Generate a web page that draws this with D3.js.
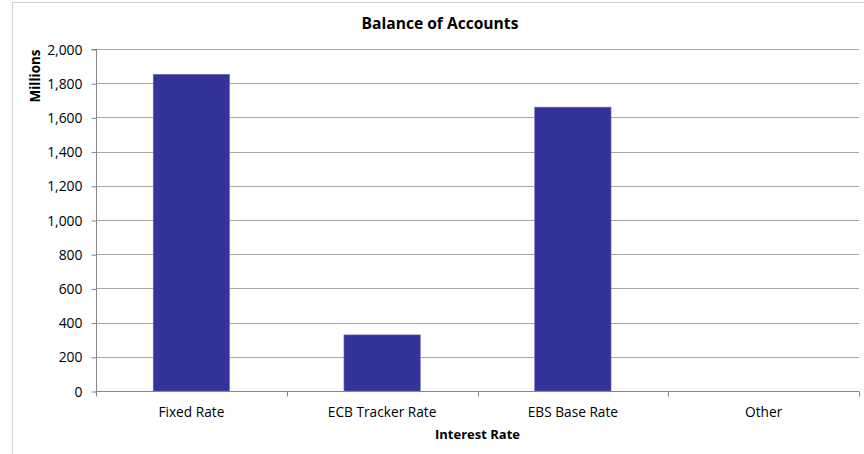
<!DOCTYPE html>
<html>
<head>
<meta charset="utf-8">
<script src="https://cdn.jsdelivr.net/npm/d3@7"></script>
<style>
  html, body { margin: 0; padding: 0; background: #fff; }
  svg { display: block; font-family: "Open Sans", "Liberation Sans", sans-serif; }
</style>
</head>
<body>
<svg id="chart" width="864" height="454"></svg>
<script>
const categories = ["Fixed Rate", "ECB Tracker Rate", "EBS Base Rate", "Other"];
const balances = [1852, 328, 1660, 0];
const yTicks = [0, 200, 400, 600, 800, 1000, 1200, 1400, 1600, 1800, 2000];
const chartTitle = "Balance of Accounts";
const xTitle = "Interest Rate";
const yTitle = "Millions";

const svg = d3.select("#chart");
const margin = { left: 96, right: 5, top: 49, bottom: 63 };
const W = 864, H = 454;
const x0 = margin.left, x1 = W - margin.right;
const y0 = H - margin.bottom, y1 = margin.top;

// outer chart border
svg.append("rect")
  .attr("x", 12.5).attr("y", 2.5)
  .attr("width", 900).attr("height", 500)
  .attr("fill", "none").attr("stroke", "#d0d0d0").attr("stroke-width", 1);

const x = d3.scaleBand().domain(categories).range([x0, x1]).paddingInner(0).paddingOuter(0);
const y = d3.scaleLinear().domain([0, 2000]).range([y0, y1]);

// gridlines
svg.append("g")
  .selectAll("line")
  .data(yTicks.filter(d => d > 0))
  .join("line")
  .attr("x1", x0).attr("x2", x1)
  .attr("y1", d => Math.round(y(d)) + 0.5)
  .attr("y2", d => Math.round(y(d)) + 0.5)
  .attr("stroke", "#a6a6a6").attr("stroke-width", 1);

// bars
const bw = x.bandwidth() * 0.4;
svg.append("g")
  .selectAll("rect")
  .data(categories.map((c, i) => ({ c, v: balances[i] })))
  .join("rect")
  .attr("x", d => x(d.c) + (x.bandwidth() - bw) / 2)
  .attr("width", bw)
  .attr("y", d => y(d.v))
  .attr("height", d => y(0) - y(d.v))
  .attr("fill", "#333399")
  .attr("stroke", d => d.v > 0 ? "#6a6ac0" : "none")
  .attr("stroke-width", 0.6);

// y axis
const yAxis = d3.axisLeft(y).tickValues(yTicks).tickSize(5).tickPadding(9)
  .tickFormat(d3.format(","));
const gy = svg.append("g").attr("transform", `translate(${x0 + 0.5},0)`).call(yAxis);
gy.attr("font-size", null).attr("font-family", null);
gy.select(".domain").attr("stroke", "#868686").attr("d", `M-5,${y1 + 0.5}H0V${y0 + 0.5}`);
gy.selectAll(".tick line").attr("stroke", "#868686").attr("transform", "translate(0,0.5)");
gy.selectAll(".tick text").style("font-size", "13.9px").attr("fill", "#000")
  .style("font-family", "'Open Sans', sans-serif").attr("dy", "0.36em");

// x axis
const xAxis = d3.axisBottom(x).tickSize(0).tickPadding(16);
const gx = svg.append("g").attr("transform", `translate(0,${y0 + 0.5})`).call(xAxis);
gx.attr("font-size", null).attr("font-family", null);
gx.select(".domain").attr("stroke", "#868686").attr("d", `M${x0},0H${x1}`);
gx.selectAll(".tick text").style("font-size", "13.7px").attr("fill", "#000")
  .style("font-family", "'Open Sans', sans-serif");
// category boundary ticks
const bounds = categories.map(c => x(c)).concat([x1]);
gx.append("g").selectAll("line").data(bounds).join("line")
  .attr("x1", d => Math.round(d) + 0.5).attr("x2", d => Math.round(d) + 0.5)
  .attr("y1", 0).attr("y2", 5).attr("stroke", "#868686");

// titles
svg.append("text").attr("x", 440).attr("y", 29).attr("text-anchor", "middle")
  .style("font-size", "15.6px").attr("font-weight", "bold").text(chartTitle);
svg.append("text").attr("x", (x0 + x1) / 2).attr("y", 439).attr("text-anchor", "middle")
  .style("font-size", "13px").attr("font-weight", "bold").text(xTitle);
svg.append("text").attr("transform", "translate(40,76) rotate(-90)").attr("text-anchor", "middle")
  .style("font-size", "13.5px").attr("font-weight", "bold").text(yTitle);
</script>
</body>
</html>
